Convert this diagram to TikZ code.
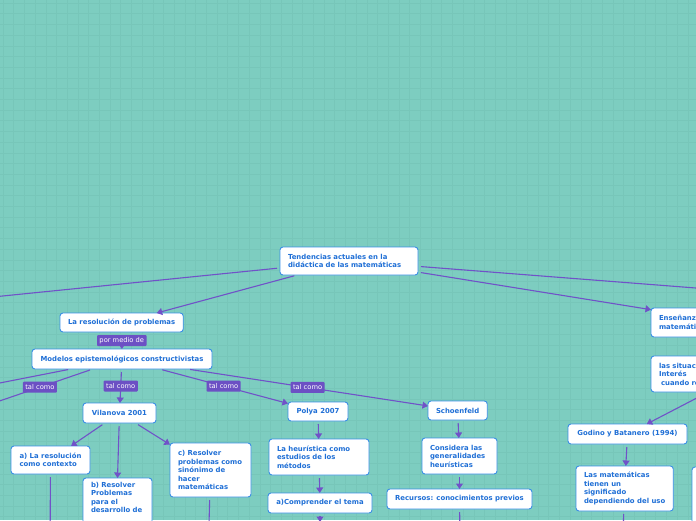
\documentclass[tikz,border=0pt]{standalone}
\usepackage{fontspec}
\setmainfont{DejaVu Sans}
\usetikzlibrary{arrows.meta}
\definecolor{bgc}{HTML}{7DCDC0}
\definecolor{gridc}{HTML}{77C6B9}
\definecolor{connc}{HTML}{7052C8}
\definecolor{lblc}{HTML}{6C50C4}
\definecolor{bord}{HTML}{3A8EE6}
\definecolor{txt}{HTML}{1F6FD6}
\begin{document}
\begin{tikzpicture}[x=1pt,y=-1pt,
  box/.style={draw=bord, line width=0.9pt, fill=white, rounded corners=3pt,
    text=txt, font=\fontsize{6.9}{8.5}\selectfont\bfseries, align=left,
    inner xsep=8pt, inner ysep=4pt, outer sep=0pt, anchor=north west},
  lbl/.style={fill=lblc, text=white, font=\fontsize{6.7}{8}\selectfont,
    inner xsep=2.5pt, inner ysep=1.5pt, rounded corners=1pt, minimum height=11pt},
  conn/.style={draw=connc, line width=1.1pt, shorten <=3pt},
  arr/.style={conn, -{Triangle[width=7pt,length=5.5pt]}},
  gridline/.style={draw=gridc, line width=0.6pt}]
\useasboundingbox (0,0) rectangle (696,520);
\clip (0,0) rectangle (696,520);
\fill[bgc] (0,0) rectangle (696,520);
\foreach \i in {0,...,65}{\draw[gridline] ({\i*10.7+3},0) -- ({\i*10.7+3},520);}
\foreach \j in {0,...,49}{\draw[gridline] (0,{\j*10.7+3}) -- (696,{\j*10.7+3});}

% nodes
\node[box, text width=122pt, minimum height=28pt] (root) at (280,247) {Tendencias actuales en la\\didáctica de las matemáticas};
\node[box, minimum width=123pt, minimum height=19pt] (lares) at (60,313) {La resolución de problemas};
\node[box, minimum width=180pt, minimum height=20pt] (modelos) at (32,349) {Modelos epistemológicos constructivistas};
\node[box, minimum width=73pt, minimum height=20pt] (vilanova) at (83,403) {Vilanova 2001};
\node[box, minimum width=79pt, minimum height=28pt] (aa) at (11,446) {a) La resolución\\como contexto};
\node[box, text width=53pt, text depth=60pt] (bb) at (83,478) {b) Resolver\\Problemas\\para el\\desarrollo de};
\node[box, text width=65pt, minimum height=54pt] (cc) at (170,443) {c) Resolver\\problemas como\\sinónimo de\\hacer\\matemáticas};
\node[box, minimum width=60pt, minimum height=19pt] (polya) at (288,402) {Polya 2007};
\node[box, text width=84pt, minimum height=36pt] (heur) at (269,439) {La heurística como\\estudios de los\\métodos};
\node[box, minimum width=104pt, minimum height=20pt] (compr) at (268,493) {a)Comprender el tema};
\node[box, minimum width=59pt, minimum height=19pt] (schoen) at (428,401) {Schoenfeld};
\node[box, text width=59pt, minimum height=36pt] (consid) at (422,438) {Considera las\\generalidades\\heurísticas};
\node[box, minimum width=145pt, minimum height=20pt] (recur) at (387,489) {Recursos: conocimientos previos};
\node[box, minimum width=119pt, minimum height=20pt] (godino) at (568,424) {Godino y Batanero (1994)};
\node[box, minimum width=97pt, minimum height=45pt] (lasmat) at (576,466) {Las matemáticas\\tienen un\\significado\\dependiendo del uso};
\node[box, text width=144pt, minimum height=29pt] (ense) at (651,308) {Enseñanza de las\\matemáticas};
\node[box, text width=168pt, minimum height=36pt] (situac) at (651,356) {las situaciones de\\Interés\\\hspace*{2pt}cuando resuelven};
\node[box, minimum width=80pt, minimum height=80pt] (farbox) at (692,467) {};

% free ends
\coordinate (leftoff) at (-40,300.3);
\coordinate (rightoff) at (760,293);
\coordinate (off1) at (-60,394.7);
\coordinate (off2) at (-13,405.3);
\coordinate (aoff) at (50,560);
\coordinate (coff) at (208,560);
\coordinate (comproff) at (320,522);
\coordinate (recuroff) at (460,540);
\coordinate (lasmatoff) at (622,560);

% connectors
\draw[conn] (root) -- (leftoff);
\draw[arr] (root) -- (lares);
\draw[conn] (root) -- (rightoff);
\draw[arr] (root) -- (ense);
\draw[arr] (lares) -- node[lbl] (l0) {por medio de} (modelos);
\draw[arr] (modelos) -- (off1);
\draw[arr] (modelos) -- node[lbl] (l1) {tal como} (off2);
\draw[arr] (modelos) -- node[lbl] (l2) {tal como} (vilanova);
\draw[arr] (modelos) -- node[lbl] (l3) {tal como} (polya);
\draw[arr] (modelos) -- node[lbl] (l4) {tal como} (schoen);
\draw[arr] (vilanova) -- (aa);
\draw[arr] (vilanova) -- (bb.north);
\draw[arr] (vilanova) -- (cc);
\draw[conn] (aa) -- (aoff);
\draw[conn] (cc) -- (coff);
\draw[arr] (polya) -- (heur);
\draw[arr] (heur) -- (compr);
\draw[arr] (compr) -- (comproff);
\draw[arr] (schoen) -- (consid);
\draw[arr] (consid) -- (recur);
\draw[arr] (recur) -- (recuroff);
\draw[arr] (situac) -- (godino);
\draw[arr] (godino) -- (lasmat);
\draw[conn] (lasmat) -- (lasmatoff);
\end{tikzpicture}
\end{document}
